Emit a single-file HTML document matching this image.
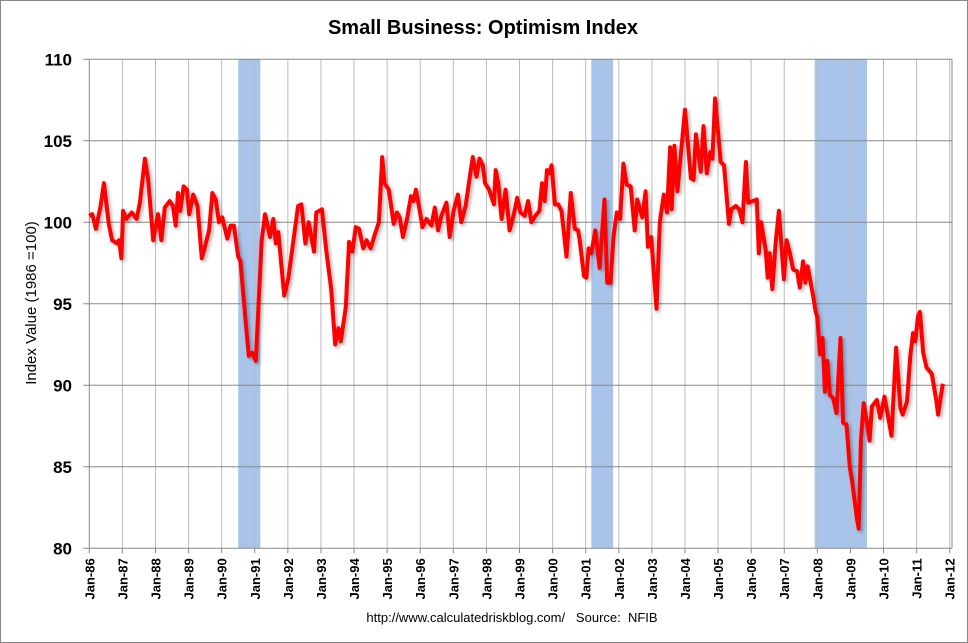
<!DOCTYPE html>
<html><head><meta charset="utf-8"><style>
body{margin:0;background:#fff;}
svg{display:block;font-family:"Liberation Sans",sans-serif;}
</style></head><body>
<svg id="chart" width="968" height="643" viewBox="0 0 968 643">
<defs><filter id="sh" x="-5%" y="-5%" width="110%" height="110%"><feDropShadow dx="2" dy="2" stdDeviation="1.5" flood-color="#000" flood-opacity="0.3"/></filter></defs>
<rect x="0.5" y="0.5" width="967" height="642" fill="#fff" stroke="#888"/>
<text x="483" y="34" text-anchor="middle" font-size="20" font-weight="bold">Small Business: Optimism Index</text>
<text transform="translate(36,303) rotate(-90)" text-anchor="middle" font-size="15">Index Value (1986 =100)</text>
<text x="512" y="622" text-anchor="middle" font-size="13" xml:space="preserve">http://www.calculatedriskblog.com/   Source:  NFIB</text>
<g id="bands"></g><g id="grid"></g><g id="axes"></g><g id="series"></g>
</svg>
<script>
const yTicks=[80,85,90,95,100,105,110];
const xTickYears=[1986,1987,1988,1989,1990,1991,1992,1993,1994,1995,1996,1997,1998,1999,2000,2001,2002,2003,2004,2005,2006,2007,2008,2009,2010,2011,2012];
const recessionStart=[1990.5,2001.17,2007.92];
const recessionEnd=[1991.17,2001.83,2009.5];
const dates=[1986.0,1986.09,1986.2,1986.34,1986.44,1986.59,1986.69,1986.84,1986.9,1986.97,1987.02,1987.12,1987.28,1987.43,1987.53,1987.68,1987.78,1987.93,1988.08,1988.18,1988.28,1988.43,1988.53,1988.61,1988.68,1988.75,1988.85,1988.95,1989.02,1989.14,1989.27,1989.4,1989.47,1989.62,1989.72,1989.82,1989.92,1990.02,1990.17,1990.27,1990.37,1990.5,1990.57,1990.72,1990.82,1990.92,1991.03,1991.21,1991.31,1991.46,1991.56,1991.64,1991.71,1991.89,1992.01,1992.21,1992.31,1992.41,1992.53,1992.63,1992.79,1992.86,1993.03,1993.16,1993.31,1993.43,1993.53,1993.6,1993.75,1993.85,1993.95,1994.05,1994.15,1994.28,1994.38,1994.5,1994.62,1994.75,1994.85,1994.92,1995.05,1995.2,1995.3,1995.38,1995.48,1995.6,1995.72,1995.8,1995.87,1995.97,1996.07,1996.19,1996.34,1996.44,1996.54,1996.64,1996.79,1996.89,1997.01,1997.14,1997.24,1997.37,1997.47,1997.59,1997.7,1997.79,1997.89,1997.96,1998.08,1998.23,1998.28,1998.36,1998.46,1998.58,1998.7,1998.83,1998.93,1999.03,1999.16,1999.26,1999.36,1999.48,1999.6,1999.68,1999.76,1999.83,1999.9,1999.97,2000.07,2000.17,2000.27,2000.42,2000.55,2000.67,2000.77,2000.82,2000.95,2001.02,2001.09,2001.17,2001.29,2001.42,2001.57,2001.65,2001.75,2001.84,2001.94,2002.04,2002.14,2002.24,2002.36,2002.48,2002.56,2002.71,2002.81,2002.88,2002.98,2003.14,2003.24,2003.36,2003.46,2003.55,2003.6,2003.68,2003.77,2004.0,2004.18,2004.26,2004.33,2004.48,2004.56,2004.66,2004.76,2004.83,2004.91,2005.08,2005.18,2005.33,2005.4,2005.54,2005.64,2005.74,2005.84,2005.91,2006.04,2006.17,2006.23,2006.3,2006.44,2006.5,2006.56,2006.64,2006.74,2006.84,2006.99,2007.07,2007.17,2007.27,2007.39,2007.47,2007.57,2007.64,2007.71,2007.88,2007.95,2008.0,2008.08,2008.16,2008.23,2008.3,2008.38,2008.48,2008.58,2008.7,2008.78,2008.88,2008.98,2009.06,2009.2,2009.25,2009.32,2009.4,2009.5,2009.58,2009.65,2009.8,2009.9,2010.03,2010.24,2010.38,2010.51,2010.58,2010.71,2010.81,2010.89,2010.96,2011.04,2011.1,2011.2,2011.3,2011.46,2011.6,2011.65,2011.79];
const values=[100.4,100.5,99.6,101.0,102.4,99.9,98.9,98.7,98.9,97.8,100.7,100.2,100.6,100.2,101.2,103.9,102.6,98.9,100.5,98.9,100.9,101.3,101.0,99.8,101.8,100.7,102.2,102.0,100.5,101.7,101.0,97.8,98.3,99.5,101.8,101.4,100.0,100.3,99.0,99.8,99.8,97.9,97.6,94.0,91.8,92.0,91.5,98.9,100.5,99.1,100.2,98.7,99.4,95.5,96.5,99.5,101.0,101.1,98.7,100.0,98.2,100.6,100.8,98.3,95.9,92.5,93.5,92.7,94.8,98.8,98.2,99.7,99.6,98.4,98.9,98.4,99.2,100.0,104.0,102.4,102.0,99.9,100.6,100.3,99.1,100.2,101.6,101.3,102.0,100.9,99.7,100.2,99.8,100.9,99.5,100.4,101.2,99.1,100.7,101.7,100.0,101.0,102.4,104.0,102.8,103.9,103.5,102.4,102.0,101.1,103.2,102.4,100.2,102.0,99.5,100.5,101.5,100.6,100.4,101.3,100.0,100.4,100.7,102.4,101.3,103.2,103.0,103.5,101.1,101.1,100.7,97.9,101.8,99.6,99.5,98.9,96.7,96.6,98.4,98.1,99.5,97.2,101.4,96.3,96.3,99.1,100.6,100.2,103.6,102.3,102.2,99.5,101.4,100.3,101.9,98.5,99.1,94.7,100.0,101.7,100.6,104.6,100.8,104.7,101.9,106.9,102.7,102.6,105.4,103.1,105.9,103.0,104.3,103.9,107.6,103.7,103.5,99.9,100.8,101.0,100.8,100.0,103.7,101.2,101.3,101.4,98.1,100.0,98.3,96.6,98.1,95.9,98.7,100.7,96.5,98.9,98.1,97.1,97.0,96.0,97.6,96.3,97.3,95.4,94.5,94.2,91.9,92.9,89.6,91.5,89.4,89.2,88.3,92.9,87.7,87.6,85.0,84.0,81.8,81.2,86.7,88.9,87.7,86.6,88.7,89.1,88.0,89.3,86.9,92.3,88.6,88.2,89.0,91.8,93.2,92.7,94.2,94.5,92.0,91.1,90.7,89.0,88.2,90.1];

const NS='http://www.w3.org/2000/svg';
const X0=89.3,X1=949.7,Y0=548.3,Y1=59.3,PR=952;
function xS(yr){return X0+(yr-1986)*(X1-X0)/26;}
function yS(v){return Y0-(v-80)*(Y0-Y1)/30;}
function mk(tag,attrs,parent){const e=document.createElementNS(NS,tag);for(const k in attrs)e.setAttribute(k,attrs[k]);parent.appendChild(e);return e;}
const bands=document.getElementById('bands'),grid=document.getElementById('grid'),axes=document.getElementById('axes'),series=document.getElementById('series');
recessionStart.forEach((s,i)=>{
  const r=mk('rect',{x:xS(s),y:Y1,width:xS(recessionEnd[i])-xS(s),height:Y0-Y1,fill:'#a9c4eb'},bands);
  
  
});
xTickYears.forEach(yr=>{
  const x=xS(yr);
  if(yr>1986){const l=mk('line',{x1:x,x2:x,y1:Y1,y2:Y0,stroke:'#bbb','stroke-width':1},grid);
  
  }
  mk('line',{x1:x,x2:x,y1:Y0,y2:Y0+5,stroke:'#888'},axes);
  const t=mk('text',{transform:`translate(${x+5},${Y0+10}) rotate(-90)`,'text-anchor':'end','font-size':'13','font-weight':'bold'},axes);
  t.textContent='Jan-'+String(yr).slice(2);
  
  
});
yTicks.forEach(v=>{
  const y=yS(v);
  const l=mk('line',{x1:X0-6,x2:PR,y1:y,y2:y,stroke:'#888','stroke-width':1},grid);
  
  
  const t=mk('text',{x:72,y:y+6,'text-anchor':'end','font-size':'17','font-weight':'bold'},axes);
  t.textContent=v;
  
  
});
const ax=mk('line',{x1:X0,x2:X0,y1:Y1,y2:Y0,stroke:'#888'},axes);


const rb=mk('line',{x1:PR,x2:PR,y1:Y1,y2:Y0,stroke:'#888'},axes);


const pts=dates.map((d,i)=>xS(d).toFixed(1)+','+yS(values[i]).toFixed(1)).join(' ');
const pl=mk('polyline',{points:pts,fill:'none',stroke:'#ff0000','stroke-width':4,'stroke-linejoin':'round',filter:'url(#sh)'},series);


</script>
</body></html>
